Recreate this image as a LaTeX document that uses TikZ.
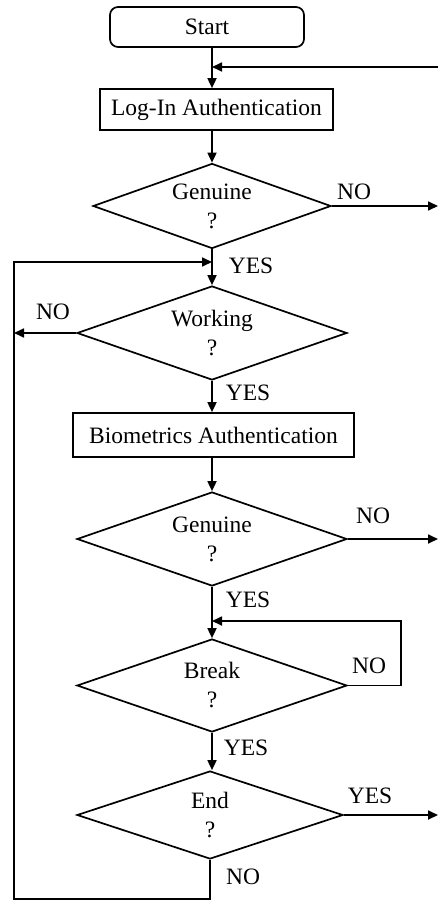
\documentclass[tikz,border=0pt]{standalone}
\usepackage{fontspec}
\setmainfont{Liberation Serif}
\usetikzlibrary{shapes.geometric,arrows.meta}
\begin{document}
\begin{tikzpicture}[x=1pt,y=-1pt,
  every node/.style={font=\fontsize{23.5}{29}\selectfont, inner sep=0pt},
  conn/.style={line width=1.7pt},
  arr/.style={conn, -{Triangle[length=10pt,width=9pt]}},
  procbox/.style={draw, line width=1.7pt, rectangle},
  decision/.style={draw, line width=1.7pt, diamond, aspect=2.9, align=center}]
\useasboundingbox (0,0) rectangle (438,901);
\coordinate (col) at (212,0);
\coordinate (outR) at (438,0);

\node[procbox, rounded corners=8pt, minimum width=194pt, minimum height=40pt] (start) at (207,27) {Start};
\node[procbox, minimum width=233pt, minimum height=41pt] (login) at (216.5,109.5) {Log-In Authentication};
\node[decision, minimum width=238pt, minimum height=85pt] (g1) at (212,206) {Genuine\\?};
\node[decision, minimum width=270pt, minimum height=94pt] (work) at (212,333) {Working\\?};
\node[procbox, minimum width=281pt, minimum height=44pt] (bio) at (213.5,435) {Biometrics Authentication};
\node[decision, minimum width=270pt, minimum height=94pt] (g2) at (212,539) {Genuine\\?};
\node[decision, minimum width=270pt, minimum height=93pt] (brk) at (212,685.5) {Break\\?};
\node[decision, minimum width=266pt, minimum height=88pt] (end) at (210,815) {End\\?};

\node (l1) at (354,192) {NO};
\node (l2) at (251,266) {YES};
\node (l3) at (53,312) {NO};
\node (l4) at (248,393) {YES};
\node (l5) at (373,516) {NO};
\node (l6) at (248,600) {YES};
\node (l7) at (369,666) {NO};
\node (l8) at (246,748) {YES};
\node (l9) at (370,796) {YES};
\node (l10) at (243,877) {NO};

\coordinate (in1) at (438,67);
\coordinate (tl) at (14,262);
\coordinate (bl) at (14,899);
\coordinate (br) at (401,621);

\draw[arr] (start.south -| col) -- (login.north -| col);
\draw[arr] (in1) -- (in1 -| col);
\draw[arr] (login.south -| col) -- (g1.north);
\draw[arr] (g1.east) -- (g1.east -| outR);
\draw[arr] (g1.south) -- (work.north);
\draw[arr] (end.south) -- (end.south |- bl) -- (bl) -- (tl) -- (tl -| col);
\draw[arr] (work.west) -- (work.west -| tl);
\draw[arr] (work.south) -- (bio.north -| col);
\draw[arr] (bio.south -| col) -- (g2.north);
\draw[arr] (g2.east) -- (g2.east -| outR);
\draw[arr] (g2.south) -- (brk.north);
\draw[arr] (brk.east) -- (brk.east -| br) -- (br) -- (br -| col);
\draw[arr] (brk.south) -- (brk.south |- end.north);
\draw[arr] (end.east) -- (end.east -| outR);
\end{tikzpicture}
\end{document}
